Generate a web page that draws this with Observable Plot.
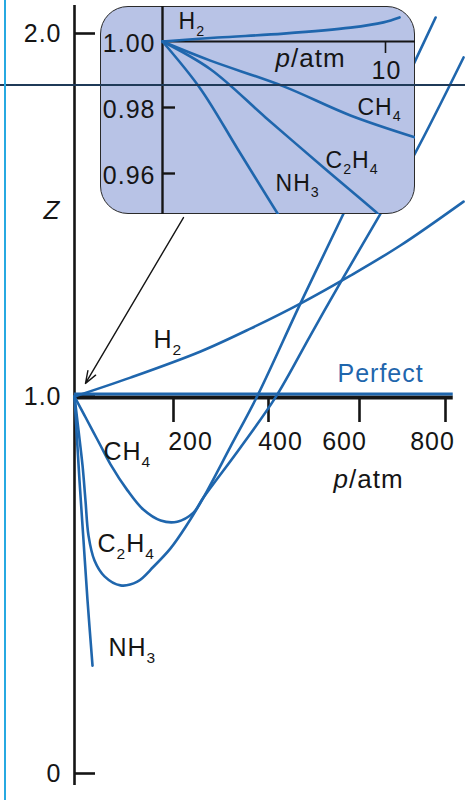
<!DOCTYPE html>
<html><head><meta charset="utf-8">
<script src="https://cdn.jsdelivr.net/npm/d3@7"></script>
<script src="https://cdn.jsdelivr.net/npm/@observablehq/plot@0.6"></script>
<style>
html,body{margin:0;padding:0;background:#fff;}
#wrap{position:relative;width:465px;height:800px;overflow:hidden;font-family:"Liberation Sans",Arial,sans-serif;}
#wrap > svg{position:absolute;}
#insetBox{position:absolute;left:100px;top:6px;width:315px;height:208px;box-sizing:border-box;border:1.6px solid #2a2a2a;border-radius:28px;background:#b8c3e6;}
.art-h{position:absolute;left:0;top:84px;width:465px;height:2px;background:#1f3a58;}
.art-v{position:absolute;left:4px;top:0;width:2px;height:800px;background:#27a9e1;}
</style></head><body><div id="wrap"><div id="insetBox"></div></div>
<script>
// ---------- main chart data (p / atm, Z) ----------
const pTicks = [200, 400, 600, 800];
const pTickLabels = ["200", "400", "600", "800"];
const zTicks = [0, 1, 2];
const zTickLabels = ["0", "1.0", "2.0"];

const h2P = [0, 113, 257, 362, 470, 580, 695, 842];
const h2Z = [1, 1.052, 1.124, 1.187, 1.256, 1.333, 1.416, 1.537];

const ch4P = [0, 20.2, 38.4, 52.5, 72.7, 107, 139, 174, 208, 242, 263, 341, 415, 492, 558, 649, 730, 842];
const ch4Z = [1, 0.950, 0.905, 0.870, 0.820, 0.751, 0.700, 0.671, 0.668, 0.692, 0.732, 0.865, 0.997, 1.168, 1.314, 1.504, 1.672, 1.934];

const c2h4P = [0, 8.1, 16.2, 22.2, 28.3, 40.4, 60.6, 92.9, 127, 160, 194, 225, 263, 320, 377, 470, 565, 730, 777];
const c2h4Z = [1, 0.910, 0.817, 0.724, 0.631, 0.565, 0.523, 0.499, 0.509, 0.549, 0.597, 0.653, 0.732, 0.867, 1.003, 1.256, 1.504, 1.926, 2.044];

const nh3P = [0, 4.0, 10.1, 18.2, 26.3, 36.4];
const nh3Z = [1, 0.910, 0.777, 0.618, 0.459, 0.286];

const perfectZ = [1];
const pAxisMax = 818;
const zAxisExtent = [-0.032, 2.077];

const gasLabels = ["H_2", "CH_4", "C_2H_4", "NH_3"];
const gasLabelP = [159.6, 58.6, 46.5, 68.7];
const gasLabelZ = [1.157, 0.854, 0.610, 0.334];
const perfectLabel = {text: "Perfect", p: 551.6, z: 1.063};
const pTitle = {text: "p/atm", p: 542.9, z: 0.780};
const zTitle = {text: "Z", p: -62.6, z: 1.512};
const arrowFrom = {p: 221, z: 1.493};
const arrowTo = {p: 22.2, z: 1.036};

// ---------- inset data (p / atm, Z) ----------
const insetPTicks = [10];
const insetPTickLabels = ["10"];
const insetZTicks = [1.00, 0.98, 0.96];
const insetZTickLabels = ["1.00", "0.98", "0.96"];

const iH2P = [0, 2.47, 5.43, 8.43, 9.91, 10.63];
const iH2Z = [1, 1.0012, 1.0024, 1.0042, 1.0058, 1.0073];
const iCH4P = [0, 2.15, 5.43, 8.43, 11.4];
const iCH4Z = [1, 0.9942, 0.9864, 0.9776, 0.9708];
const iC2H4P = [0, 2.15, 4.62, 7.22, 9.64, 9.85];
const iC2H4Z = [1, 0.9916, 0.9770, 0.9618, 0.9479, 0.9465];
const iNH3P = [0, 1.70, 3.39, 5.16, 5.3];
const iNH3Z = [1, 0.9857, 0.9672, 0.9479, 0.9465];
const insetPAxisMax = 11.4;

const insetLabels = ["H_2", "CH_4", "C_2H_4", "NH_3"];
const insetLabelP = [0.72, 8.74, 7.31, 5.07];
const insetLabelZ = [1.0059, 0.9800, 0.96394, 0.95697];
const insetPTitle = {text: "p/atm", p: 5.07, z: 0.99485};

// ---------- build tables ----------
const mainSeries = [["H2", h2P, h2Z], ["CH4", ch4P, ch4Z], ["C2H4", c2h4P, c2h4Z], ["NH3", nh3P, nh3Z]];
const mainRows = mainSeries.flatMap(([g, P, Z]) => P.map((p, i) => ({gas: g, p, z: Z[i]})));
const insetSeries = [["H2", iH2P, iH2Z], ["CH4", iCH4P, iCH4Z], ["C2H4", iC2H4P, iC2H4Z], ["NH3", iNH3P, iNH3Z]];
const insetRows = insetSeries.flatMap(([g, P, Z]) => P.map((p, i) => ({gas: g, p, z: Z[i]})));

const BLUE = "#1f66ad";
const INK = "#151515";
const FONT = '"Liberation Sans", Arial, sans-serif';
const xLabelDx = [17, 12, -15, -13];

const main = Plot.plot({
  width: 465, height: 800, margin: 0,
  x: {type: "linear", axis: null, domain: [0, 200, 400, 600, 800], range: [74, 173, 268, 359, 445]},
  y: {type: "linear", axis: null, domain: [0, 1, 2], range: [773, 396, 33]},
  style: {background: "transparent", overflow: "visible", fontFamily: FONT, fontSize: "25px", color: INK},
  marks: [
    Plot.ruleX([0], {x: d => d, y1: zAxisExtent[0], y2: zAxisExtent[1], stroke: INK, strokeWidth: 2.6}),
    Plot.ruleY(zTicks, {y: d => d, x1: 0, x2: 0, insetLeft: 0, insetRight: -21, stroke: INK, strokeWidth: 2.6}),
    Plot.text(zTicks, {x: 0, y: d => d, text: (d, i) => zTickLabels[i], textAnchor: "end", dx: -13, fontSize: 25, fill: INK}),
    Plot.ruleY(perfectZ, {y: d => d, x1: 0, x2: pAxisMax, stroke: INK, strokeWidth: 4, dy: 1}),
    Plot.ruleX(pTicks, {x: d => d, y1: 1, y2: 1, insetTop: 1, insetBottom: -26, stroke: INK, strokeWidth: 2.6}),
    ...pTicks.map((t, i) => Plot.text([t], {x: d => d, y: 1, dx: xLabelDx[i], dy: 45, text: () => pTickLabels[i], fontSize: 25, fill: INK})),
    Plot.line(mainRows, {x: "p", y: "z", z: "gas", stroke: BLUE, strokeWidth: 2.6, curve: "catmull-rom"}),
    Plot.ruleY(perfectZ, {y: d => d, x1: 0, x2: pAxisMax, stroke: BLUE, strokeWidth: 3, dy: -2.5}),
    Plot.text(gasLabels, {x: (d, i) => gasLabelP[i], y: (d, i) => gasLabelZ[i], text: d => d, textAnchor: "start", fontSize: 25, fill: INK}),
    Plot.text([perfectLabel], {x: "p", y: "z", text: "text", textAnchor: "start", fontSize: 25, fill: BLUE}),
    Plot.text([pTitle], {x: "p", y: "z", text: "text", textAnchor: "start", fontSize: 26, fill: INK}),
    Plot.text([zTitle], {x: "p", y: "z", text: "text", textAnchor: "start", fontSize: 26, fontStyle: "italic", fill: INK}),
    Plot.arrow([{a: arrowFrom, b: arrowTo}], {x1: d => d.a.p, y1: d => d.a.z, x2: d => d.b.p, y2: d => d.b.z, stroke: INK, strokeWidth: 1.4, headLength: 14, headAngle: 40})
  ]
});

const inset = Plot.plot({
  width: 315, height: 208, margin: 0,
  x: {type: "linear", axis: null, domain: [0, 10], range: [62, 285]},
  y: {type: "linear", axis: null, domain: [0.96, 1.00], range: [167, 35]},
  style: {background: "transparent", overflow: "hidden", fontFamily: FONT, fontSize: "24px", color: INK},
  marks: [
    Plot.ruleX([0], {x: d => d, stroke: INK, strokeWidth: 2.4}),
    Plot.ruleY([1], {y: d => d, x1: 0, x2: insetPAxisMax, stroke: INK, strokeWidth: 2.2}),
    Plot.ruleY(insetZTicks.slice(1), {y: d => d, x1: 0, x2: 0, insetRight: -13, stroke: INK, strokeWidth: 2.4}),
    Plot.ruleX(insetPTicks, {x: d => d, y1: 1, y2: 1, insetTop: 1, insetBottom: -12, stroke: INK, strokeWidth: 1.6}),
    Plot.text(insetZTicks, {x: 0, y: d => d, text: (d, i) => insetZTickLabels[i], textAnchor: "end", dx: -7, dy: 2, fontSize: 25, fill: INK}),
    Plot.text(insetPTicks, {x: d => d, y: 1, text: (d, i) => insetPTickLabels[i], dy: 29, dx: 1, fontSize: 25, fill: INK}),
    Plot.line(insetRows, {x: "p", y: "z", z: "gas", stroke: BLUE, strokeWidth: 2.6, curve: "catmull-rom"}),
    Plot.text(insetLabels, {x: (d, i) => insetLabelP[i], y: (d, i) => insetLabelZ[i], text: d => d, textAnchor: "start", fontSize: 23, fill: INK}),
    Plot.text([insetPTitle], {x: "p", y: "z", text: "text", textAnchor: "start", fontSize: 26, fill: INK})
  ]
});

// rich text: subscripts and italic p
function richify(svg) {
  d3.select(svg).selectAll("text").each(function () {
    const t = d3.select(this);
    if (!t.selectAll("tspan").empty()) return;
    const s = t.text();
    const fs = parseFloat(getComputedStyle(this).fontSize) || 25;
    if (s === "p/atm") {
      t.text("");
      t.append("tspan").attr("font-style", "italic").text("p");
      t.append("tspan").text("/atm");
      return;
    }
    if (!s.includes("_")) return;
    t.text("");
    const parts = s.split(/(_\d)/).filter(x => x);
    let sub = false;
    const shift = fs * 0.28;
    for (const part of parts) {
      if (part[0] === "_") {
        t.append("tspan").attr("font-size", (fs * 0.62) + "px").attr("dy", sub ? 0 : shift).text(part.slice(1));
        sub = true;
      } else {
        t.append("tspan").attr("dy", sub ? -shift : 0).text(part);
        sub = false;
      }
    }
  });
}

const wrap = document.getElementById("wrap");
main.style.left = "0px"; main.style.top = "0px"; main.style.zIndex = 1;
wrap.insertBefore(main, wrap.firstChild);
document.getElementById("insetBox").style.zIndex = 2;
inset.style.left = "100px"; inset.style.top = "6px"; inset.style.zIndex = 3;
wrap.appendChild(inset);
richify(main); richify(inset);
wrap.querySelectorAll("text").forEach(el => el.style.letterSpacing = "1px");

const ah = document.createElement("div"); ah.className = "art-h"; ah.style.zIndex = 4; wrap.appendChild(ah);
const av = document.createElement("div"); av.className = "art-v"; av.style.zIndex = 4; wrap.appendChild(av);
</script>
</body></html>
